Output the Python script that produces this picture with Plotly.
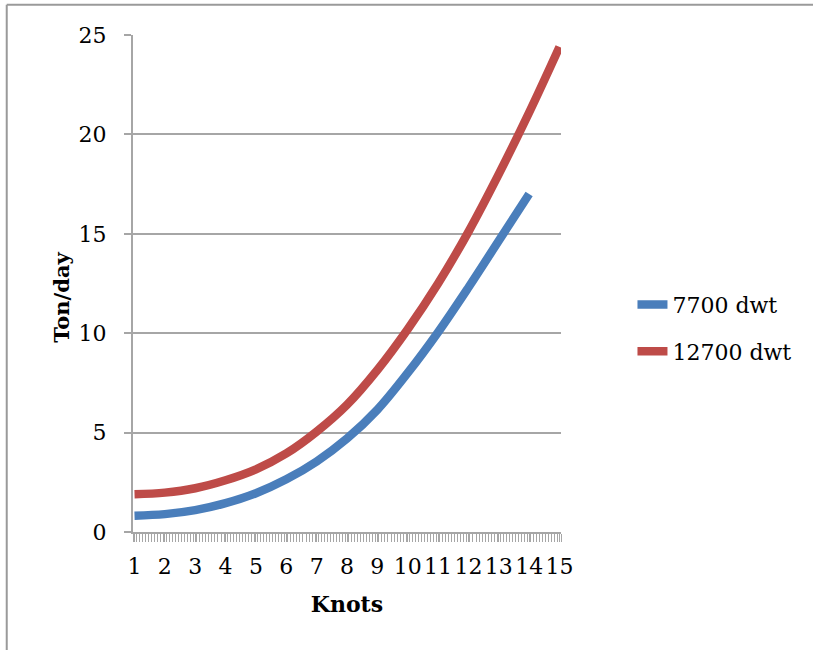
import plotly.graph_objects as go

knots = list(range(1, 16))
tick_labels = [str(k) for k in knots]
dwt7700 = [0.82, 0.90, 1.10, 1.45, 1.95, 2.65, 3.55, 4.70, 6.15, 8.00, 10.05, 12.30, 14.65, 17.00]
dwt12700 = [1.90, 1.98, 2.20, 2.60, 3.15, 3.95, 5.05, 6.40, 8.15, 10.20, 12.50, 15.10, 18.00, 21.10, 24.40]
series_names = ["7700 dwt", "12700 dwt"]
colors = ["#4A7EBB", "#BE4B48"]

FONT = "DejaVu Serif"
GRAY = "#A6A6A6"

fig = go.Figure()
fig.add_trace(go.Scatter(x=knots[:len(dwt7700)], y=dwt7700, mode="lines", name=series_names[0],
                         legendgroup="a",
                         line=dict(color=colors[0], width=8.5, shape="spline", smoothing=1.0)))
fig.add_trace(go.Scatter(x=knots, y=dwt12700, mode="lines", name=series_names[1],
                         legendgroup="b",
                         line=dict(color=colors[1], width=8.5, shape="spline", smoothing=1.0)))

fig.update_layout(
    width=813, height=650,
    margin=dict(l=133, r=252, t=35, b=118),
    paper_bgcolor="white", plot_bgcolor="white",
    font=dict(family=FONT, size=22, color="#000000"),
    showlegend=True,
    legend=dict(x=1.167, y=0.41, xanchor="left", yanchor="middle",
                font=dict(family=FONT, size=22), tracegroupgap=15,
                itemwidth=30, bgcolor="rgba(0,0,0,0)"),
    xaxis=dict(
        range=[0.95, 15.05], tickmode="array", tickvals=knots, ticktext=tick_labels,
        tickangle=0,
        showgrid=False, zeroline=False, showline=True, linecolor=GRAY, linewidth=2,
        ticks="outside", ticklen=8, tickcolor=GRAY, tickwidth=1,
        ticklabelstandoff=6,
        minor=dict(tick0=0.95, dtick=0.1, ticks="outside", ticklen=8, tickcolor=GRAY, tickwidth=1),
        tickfont=dict(family=FONT, size=22),
        title=dict(text="<b>Knots</b>", font=dict(family=FONT, size=22), standoff=18),
    ),
    yaxis=dict(
        range=[0, 25], dtick=5, tick0=0,
        showgrid=True, gridcolor=GRAY, gridwidth=2,
        zeroline=False, showline=True, linecolor=GRAY, linewidth=2,
        ticks="outside", ticklen=7, tickcolor=GRAY, tickwidth=2,
        ticklabelstandoff=13,
        tickfont=dict(family=FONT, size=22),
    ),
    annotations=[dict(text="<b>Ton/day</b>", xref="paper", yref="paper",
                      x=-0.166, y=0.473, xanchor="center", yanchor="middle",
                      textangle=-90, showarrow=False,
                      font=dict(family=FONT, size=21))],
)

# outer frame (top and left edge of the chart border)
fig.add_shape(type="line", xref="paper", yref="paper", x0=-0.295, x1=1.6, y0=1.061, y1=1.061,
              line=dict(color="#9A9A9A", width=2))
fig.add_shape(type="line", xref="paper", yref="paper", x0=-0.295, x1=-0.295, y0=1.061, y1=-0.3,
              line=dict(color="#9A9A9A", width=2))

fig.write_html("out.html")
